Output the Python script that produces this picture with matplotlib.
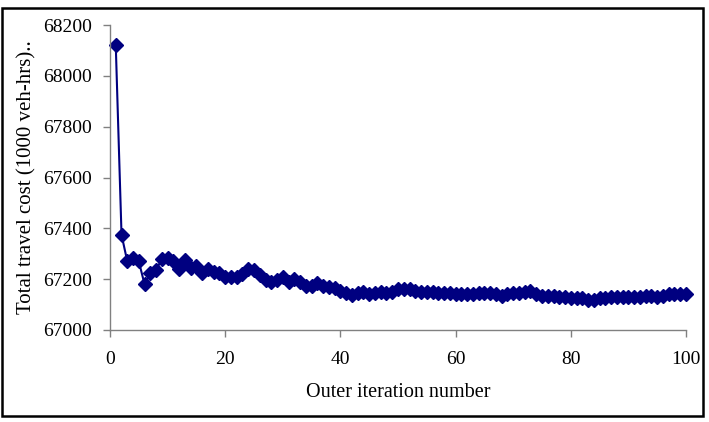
import matplotlib.pyplot as plt
import numpy as np
from matplotlib.patches import Rectangle

plt.rcParams['font.family'] = ['Liberation Serif', 'DejaVu Serif']

# outer iteration number and total travel cost (1000 veh-hrs)
iterations = list(range(1, 101))
travel_cost = [
    68120, 67375, 67270, 67285, 67270, 67180, 67225, 67235, 67280, 67285,
    67270, 67240, 67275, 67245, 67250, 67225, 67240, 67230, 67225, 67210,
    67210, 67210, 67220, 67240, 67235, 67215, 67195, 67190, 67195, 67210,
    67190, 67200, 67190, 67175, 67175, 67185, 67175, 67170, 67165, 67155,
    67145, 67138, 67145, 67150, 67140, 67145, 67150, 67145, 67150, 67160,
    67160, 67160, 67155, 67150, 67150, 67150, 67145, 67145, 67145, 67140,
    67140, 67140, 67140, 67145, 67145, 67145, 67140, 67135, 67140, 67145,
    67145, 67150, 67155, 67140, 67135, 67135, 67135, 67130, 67130, 67125,
    67125, 67125, 67120, 67120, 67125, 67125, 67130, 67130, 67130, 67130,
    67130, 67130, 67135, 67135, 67130, 67135, 67140, 67140, 67140, 67140,
]
x_ticks = [0, 20, 40, 60, 80, 100]
y_ticks = [67000, 67200, 67400, 67600, 67800, 68000, 68200]

fig = plt.figure(figsize=(7.09, 4.22), dpi=100)
ax = fig.add_axes([110 / 709, 1 - 330 / 422, 576 / 709, 305 / 422])

ax.plot(iterations, travel_cost, color='#000080', linewidth=1.5,
        marker='D', markersize=7, markerfacecolor='#000080',
        markeredgecolor='#000080', clip_on=False)

ax.set_xlim(0, 100)
ax.set_ylim(67000, 68200)
ax.set_xticks(x_ticks)
ax.set_yticks(y_ticks)
ax.tick_params(axis='both', direction='out', length=5, width=1,
               color='#808080', labelsize=14, pad=8)
ax.tick_params(axis='x', pad=10)

for side in ['top', 'right']:
    ax.spines[side].set_visible(False)
for side in ['left', 'bottom']:
    ax.spines[side].set_color('#808080')
    ax.spines[side].set_linewidth(1)

ax.set_xlabel('Outer iteration number', fontsize=14.5, labelpad=11)
ax.set_ylabel('Total travel cost (1000 veh-hrs)..', fontsize=15, labelpad=5)

# frame round the whole chart
fig.patches.append(Rectangle((1.5 / 709, 1 - 416 / 422), 701 / 709, 408 / 422,
                             transform=fig.transFigure, fill=False,
                             edgecolor='black', linewidth=1.8))

fig.savefig('out.png', dpi=100)
